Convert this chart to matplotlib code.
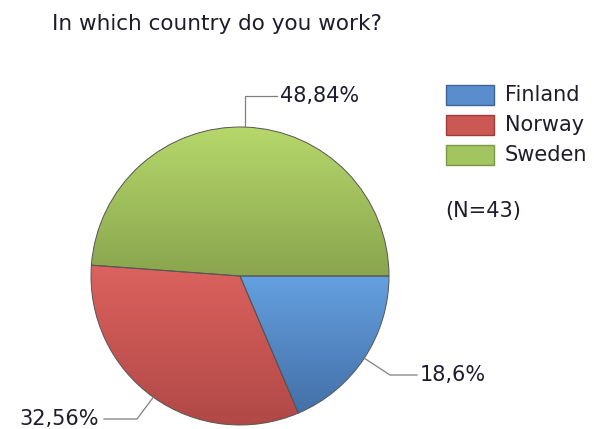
import numpy as np
import matplotlib
matplotlib.use("Agg")
import matplotlib.pyplot as plt
from matplotlib.patches import Rectangle

# ---- data ----
title = "In which country do you work?"
categories = ["Finland", "Norway", "Sweden"]
shares = [18.60, 32.56, 48.84]
labels = ["18,6%", "32,56%", "48,84%"]
n_text = "(N=43)"

# ---- style ----
top_cols = ["#64a0e0", "#dc625e", "#b6d86b"]
bot_cols = ["#4470a8", "#b04846", "#8aa54e"]
mid_cols = ["#5a8dcc", "#cc5854", "#a3c560"]
edge_cols = ["#3d6496", "#9a3e3c", "#7d9648"]
txt = "#1c1c2c"
FS = 15

W, H = 594, 429
fig = plt.figure(figsize=(W / 100, H / 100), dpi=100)
ax = fig.add_axes([0, 0, 1, 1])

cx, cy, r = 240, 276, 149
wedges, _ = ax.pie(shares, startangle=0, counterclock=True, center=(cx, cy),
                   radius=r, frame=True,
                   wedgeprops=dict(facecolor="none", edgecolor="#555555",
                                   linewidth=0.7, zorder=3))

# gradient fills clipped to each wedge
for w, tc, bc in zip(wedges, top_cols, bot_cols):
    verts = w.get_path().vertices
    y0, y1 = verts[:, 1].min(), verts[:, 1].max()
    x0, x1 = verts[:, 0].min(), verts[:, 0].max()
    t = np.linspace(0, 1, 256)[:, None]
    c0 = np.array(matplotlib.colors.to_rgb(tc))
    c1 = np.array(matplotlib.colors.to_rgb(bc))
    img = (c0[None, None, :] * (1 - t[..., None]) + c1[None, None, :] * t[..., None])
    im = ax.imshow(img, extent=(x0, x1, y1, y0), origin="upper",
                   aspect="auto", zorder=2, interpolation="bilinear")
    im.set_clip_path(w)

# leader lines and labels
fracs = np.array(shares) / sum(shares)
starts = np.concatenate([[0], np.cumsum(fracs)[:-1]]) * 360
mids = np.deg2rad(starts + fracs * 180)
lc = "#808080"
# Finland
a = mids[0]
px, py = cx + r * np.cos(a), cy + r * np.sin(a)
ax.plot([px, 390, 417], [py, 375, 375], color=lc, lw=0.9, zorder=4)
ax.text(420, 375, labels[0], fontsize=FS, color=txt, va="center", ha="left")
# Norway
a = mids[1]
px, py = cx + r * np.cos(a), cy + r * np.sin(a)
ax.plot([px, 137, 104], [py, 419, 419], color=lc, lw=0.9, zorder=4)
ax.text(99, 419, labels[1], fontsize=FS, color=txt, va="center", ha="right")
# Sweden
a = mids[2]
px, py = cx + r * np.cos(a), cy + r * np.sin(a)
ax.plot([px, px, 277], [py, 96, 96], color=lc, lw=0.9, zorder=4)
ax.text(280, 96, labels[2], fontsize=FS, color=txt, va="center", ha="left")

# title
ax.text(52, 24, title, fontsize=15.5, color=txt, va="center", ha="left")

# legend
for i, (cat, mc, ec) in enumerate(zip(categories, mid_cols, edge_cols)):
    y = 85 + i * 30
    ax.add_patch(Rectangle((446, y), 48, 20, facecolor=mc, edgecolor=ec,
                           linewidth=1, zorder=3))
    ax.text(505, y + 10, cat, fontsize=FS, color=txt, va="center", ha="left")
ax.text(445, 211, n_text, fontsize=FS, color=txt, va="center", ha="left")

ax.set_xlim(0, W)
ax.set_ylim(H, 0)
ax.set_aspect("auto")
ax.axis("off")
fig.savefig("out.png", dpi=100, facecolor="white")
